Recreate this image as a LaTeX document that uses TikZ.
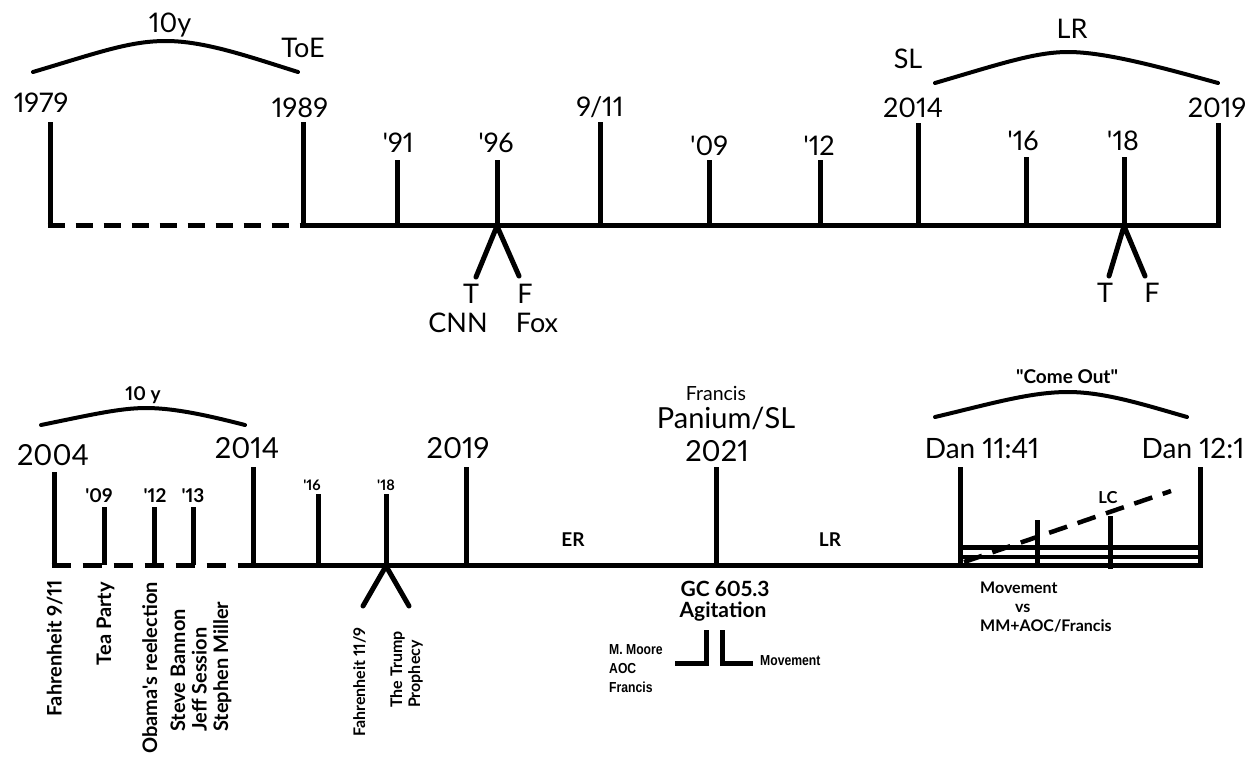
\documentclass[tikz,border=0pt]{standalone}
\usepackage{fontspec}
\setmainfont{Lato}[Numbers={Lining,Proportional}]
\newfontfamily\narrowfont[FakeStretch=0.84]{Liberation Sans}
\newcommand\yr[1]{\textquotesingle#1}

\begin{document}
\begin{tikzpicture}[x=1pt,y=-1pt,
    tick/.style={line width=5pt},
    gapline/.style={line width=5pt,dash pattern=on 17pt off 11pt},
    span/.style={line width=4pt,line cap=round},
    fork/.style={line width=5pt,line cap=round},
    yearA/.style={font=\fontsize{27}{32}\selectfont,inner sep=0pt,anchor=base},
    yearB/.style={font=\fontsize{29}{34}\selectfont,inner sep=0pt,anchor=base},
    note/.style={font=\bfseries\fontsize{19}{23}\selectfont,inner sep=0pt,anchor=base},
    small/.style={font=\bfseries\fontsize{14.5}{17}\selectfont,inner sep=0pt,anchor=base},
    side/.style={font=\bfseries\fontsize{20}{22}\selectfont,inner sep=0pt,rotate=90},
    sidesmall/.style={side,font=\bfseries\fontsize{16}{18}\selectfont,anchor=base west},
    narrow/.style={font=\narrowfont\bfseries\fontsize{14.5}{17}\selectfont,inner sep=0pt,anchor=base west}]
    \useasboundingbox (0,0) rectangle (1260,761);

    % first timeline
    \draw [span] (33,72) .. controls (100,52) and (130,41) .. (166,41) .. controls (205,41) and (250,57) .. (298,72);
    \draw [span] (935,83) .. controls (1000,64) and (1035,52) .. (1068,52) .. controls (1105,52) and (1160,67) .. (1218,83);
    \node [yearA] (tenA) at (170,32) {10y};
    \node [yearA] (toe) at (303,57) {ToE};
    \node [yearA] (slA) at (908,68) {SL};
    \node [yearA] (lrA) at (1072,38) {LR};

    \node [yearA] (a1979) at (41,112) {1979};
    \node [yearA] (a1989) at (300,117) {1989};
    \node [yearA] (a91) at (398,152) {\yr{91}};
    \node [yearA] (a96) at (496,152) {\yr{96}};
    \node [yearA] (a911) at (600,116) {9/11};
    \node [yearA] (a09) at (709,155) {\yr{09}};
    \node [yearA] (a12) at (819,155) {\yr{12}};
    \node [yearA] (a2014) at (913,117) {2014};
    \node [yearA] (a16) at (1023,150) {\yr{16}};
    \node [yearA] (a18) at (1123,150) {\yr{18}};
    \node [yearA] (a2019) at (1217,117) {2019};

    \draw [tick] (50,122) -- (50,225);
    \draw [gapline] (47.5,225) -- (303,225);
    \draw [tick] (303,122) -- (303,225) -- (1218,225) -- (1218,123);
    \draw [tick] (397,160) -- (397,225);
    \draw [tick] (497,160) -- (497,225);
    \draw [tick] (600,122) -- (600,225);
    \draw [tick] (709,160) -- (709,225);
    \draw [tick] (820,160) -- (820,225);
    \draw [tick] (918,123) -- (918,225);
    \draw [tick] (1026,157) -- (1026,225);
    \draw [tick] (1124,157) -- (1124,225);

    \draw [fork] (476,277) -- (497,226) -- (519,276);
    \draw [fork] (1109,276) -- (1124,226) -- (1145,276);
    \node [yearA] (tA) at (471,303) {T};
    \node [yearA] (fA) at (525,303) {F};
    \node [yearA] (cnn) at (458,332) {CNN};
    \node [yearA] (fox) at (537,332) {Fox};
    \node [yearA] (tB) at (1105,302) {T};
    \node [yearA] (fB) at (1152,302) {F};

    % second timeline
    \draw [span] (41,425) .. controls (90,415) and (120,408) .. (146,408) .. controls (175,408) and (210,416) .. (245,425);
    \draw [span] (935,417) .. controls (990,404) and (1030,392) .. (1068,392) .. controls (1105,392) and (1145,405) .. (1187,417);
    \node [note] (tenB) at (143,400) {10 y};
    \node [note] (comeout) at (1067,383) {\textquotedbl Come Out\textquotedbl};

    \node [yearB] (b2004) at (53,465) {2004};
    \node [yearB] (b2014) at (247,458) {2014};
    \node [yearB] (b2019) at (458,458) {2019};
    \node [note] (b09) at (99,502) {\yr{09}};
    \node [note] (b12) at (155,502) {\yr{12}};
    \node [note] (b13) at (193,502) {\yr{13}};
    \node [small] (b16) at (312,490) {\yr{16}};
    \node [small] (b18) at (386,490) {\yr{18}};
    \node [note,font=\fontsize{19.5}{23}\selectfont] (francis) at (716,400) {Francis};
    \node [yearB] (panium) at (726,428) {Panium/SL};
    \node [yearB] (b2021) at (717,461) {2021};
    \node [yearB,font=\fontsize{28}{33}\selectfont] (dan1) at (982,458) {Dan 11:41};
    \node [yearB,font=\fontsize{28}{33}\selectfont] (dan2) at (1193,458) {Dan 12:1};
    \node [note] (er) at (573,546) {ER};
    \node [note] (lrB) at (830,546) {LR};
    \node [small,font=\bfseries\fontsize{16.5}{19}\selectfont] (lc) at (1108,503) {LC};

    \draw [tick] (54,472) -- (54,565);
    \draw [gapline,dash pattern=on 19pt off 12pt] (51.5,565) -- (253,565);
    \draw [tick] (104,507) -- (104,565);
    \draw [tick] (154,507) -- (154,565);
    \draw [tick] (193,507) -- (193,565);
    \draw [tick] (253,467) -- (253,565) -- (960,565);
    \draw [tick] (318,494) -- (318,565);
    \draw [tick] (386,494) -- (386,565);
    \draw [tick] (466,467) -- (466,565);
    \draw [tick] (716,467) -- (716,565);
    \draw [fork] (363,606) -- (386,566) -- (409,606);

    % the box after Dan 11:41
    \draw [tick] (960,467) -- (960,567.5);
    \draw [tick] (1200,467) -- (1200,567.5);
    \draw [tick] (960,547) -- (1200,547);
    \draw [tick,line width=4pt] (960,557) -- (1200,557);
    \draw [tick] (960,565) -- (1200,565);
    \draw [tick] (1037,520) -- (1037,563);
    \draw [tick] (1110,516) -- (1110,569);
    \draw [line width=4.5pt,dash pattern=on 19pt off 11pt] (964,562) -- (1171,491);

    \node [note,font=\bfseries\fontsize{16}{19}\selectfont,anchor=base west] (mvA) at (980,593) {Movement};
    \node [note,font=\bfseries\fontsize{16}{19}\selectfont,anchor=base west] (vs) at (1015,612) {vs};
    \node [note,font=\bfseries\fontsize{16}{19}\selectfont,anchor=base west] (mm) at (980,631) {MM+AOC/Francis};

    % under 2021
    \node [note,font=\bfseries\fontsize{21}{25}\selectfont] (gc) at (725,596) {GC 605.3};
    \node [note,font=\bfseries\fontsize{21}{25}\selectfont] (agit) at (723,617) {Agitation};
    \draw [tick] (706.5,630) |- (675,663);
    \draw [tick] (722,630) |- (753,663);
    \node [narrow] (moore) at (609,654) {M. Moore};
    \node [narrow] (aoc) at (609,673) {AOC};
    \node [narrow] (fr) at (609,692) {Francis};
    \node [narrow] (mvB) at (760,665) {Movement};

    % names under the line
    \node [side,anchor=base east] (f911) at (61.5,580) {Fahrenheit 9/11};
    \node [side,anchor=base east] (tea) at (111,582) {Tea Party};
    \node [side,anchor=base east] (obama) at (157,582) {Obama\textquotesingle s reelection};
    \node [side,anchor=base west] (bannon) at (185,732) {Steve Bannon};
    \node [side,anchor=base west] (jeff) at (206.5,732) {Jeff Session};
    \node [side,anchor=base west] (miller) at (228,732) {Stephen Miller};
    \node [sidesmall] (f119) at (365,737) {Fahrenheit 11/9};
    \node [sidesmall] (trump) at (402,708) {The Trump};
    \node [sidesmall] (proph) at (420,708) {Prophecy};
\end{tikzpicture}
\end{document}
